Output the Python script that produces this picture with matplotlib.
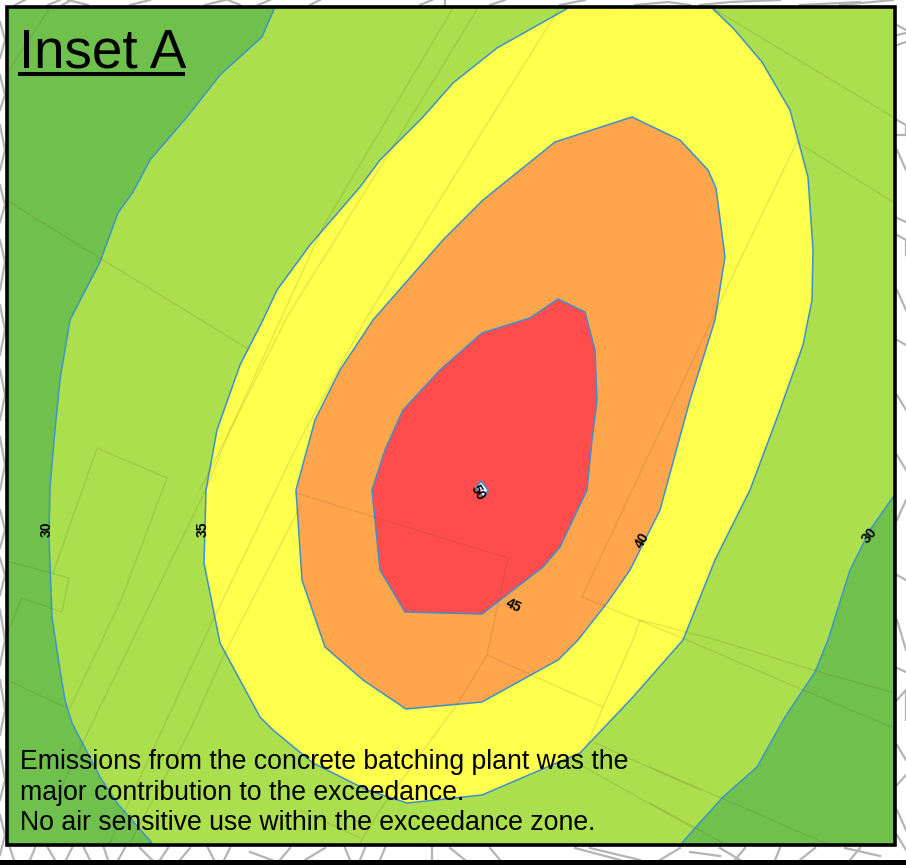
import matplotlib
matplotlib.use("Agg")
import matplotlib.pyplot as plt
from matplotlib.patches import Polygon, Rectangle

W, H = 906, 865

# contour bands in pixels
left_30 = [(275, 7), (262, 37), (220, 75), (187, 117), (150, 160), (133, 192), (118, 213), (100, 262), (70, 320),
           (60, 380), (55, 430), (50, 487), (49, 537), (52, 617), (60, 670), (65, 700), (72, 723), (100, 777),
           (117, 803), (152, 843), (0, 860), (0, 0), (275, 0)]
right_30 = [(893, 497), (870, 530), (850, 570), (828, 640), (815, 672), (785, 717), (757, 767), (723, 797),
            (695, 828), (682, 843), (675, 860), (906, 860), (906, 497)]
yellow_35 = [(712, 8), (733, 28), (762, 62), (790, 110), (808, 177), (813, 250), (812, 300), (803, 345), (780, 410),
             (750, 490), (715, 560), (683, 640), (633, 697), (580, 753), (482, 795), (407, 803), (367, 790),
             (313, 763), (273, 730), (260, 717), (220, 643), (204, 563), (206, 490), (217, 430), (240, 365),
             (263, 320), (277, 290), (310, 245), (360, 187), (380, 160), (423, 117), (453, 83), (497, 48), (570, 7)]
orange_40 = [(632, 117), (680, 140), (708, 170), (716, 188), (725, 257), (715, 320), (690, 400), (660, 510),
             (630, 570), (607, 603), (578, 640), (558, 660), (482, 702), (406, 709), (363, 680), (325, 647),
             (302, 580), (296, 490), (315, 420), (340, 370), (373, 320), (443, 240), (483, 200), (555, 142)]
red_45 = [(558, 299), (585, 312), (595, 350), (597, 400), (592, 440), (587, 490), (560, 547), (543, 567), (482, 614),
          (405, 612), (380, 570), (372, 490), (385, 450), (403, 410), (440, 370), (482, 333), (530, 318)]
white_50 = [(481, 481), (488, 490), (484, 498), (476, 488)]

band_shapes = [yellow_35, orange_40, red_45, white_50]
band_colors = ["#ffff4d", "#ffa64d", "#ff4d4d", "#f4f6ff"]

# parcel boundaries inside the frame
parcels = [
    [(7, 200), (38, 220), (250, 350)],
    [(7, 561), (69, 578), (62, 612), (22, 598), (7, 633)],
    [(53, 573), (97, 448), (167, 478), (121, 600), (70, 708)],
    [(7, 680), (65, 707)],
    [(453, 8), (323, 227), (230, 430), (207, 487), (100, 707), (60, 790)],
    [(478, 8), (397, 140), (287, 317), (200, 490)],
    [(560, 7), (500, 103), (367, 317), (300, 440), (213, 620), (162, 730), (110, 843)],
    [(300, 507), (223, 657), (190, 730), (130, 843)],
    [(296, 493), (508, 558), (487, 655), (458, 703), (380, 810), (360, 843)],
    [(300, 810), (360, 838)],
    [(487, 655), (603, 707), (633, 640), (640, 620), (717, 640), (813, 670), (894, 693)],
    [(603, 707), (588, 743)],
    [(595, 743), (700, 790)],
    [(577, 763), (693, 828)],
    [(582, 597), (687, 640), (803, 690), (894, 728)],
    [(582, 597), (740, 260), (797, 142), (893, 202)],
    [(712, 8), (893, 117)],
    [(650, 767), (825, 843)],
    [(650, 803), (723, 843)],
    [(7, 73), (50, 8)],
]

# map clutter around the frame
outside = [
    [(15, 5), (25, 0)], [(48, 5), (60, 0)], [(62, 5), (72, 0)], [(88, 5), (68, 0)], [(130, 5), (150, 0)],
    [(205, 5), (225, 0)], [(240, 5), (228, 0)], [(258, 5), (270, 0)], [(310, 5), (320, 0)], [(420, 5), (432, 0)],
    [(445, 5), (445, 0)], [(490, 5), (505, 0)], [(560, 5), (585, 0)], [(635, 5), (668, 2), (690, 5)],
    [(700, 5), (730, 2), (780, 0)], [(800, 5), (860, 2)], [(840, 5), (893, 0)],
    [(0, 22), (5, 40), (0, 58)], [(0, 75), (5, 95), (0, 110)], [(0, 125), (5, 150), (0, 170)], [(0, 185), (5, 205), (0, 222)],
    [(0, 240), (5, 262), (0, 290)], [(0, 305), (5, 330), (0, 355)], [(0, 370), (5, 395), (0, 420)], [(0, 437), (5, 465), (0, 490)],
    [(0, 510), (5, 530), (0, 548)], [(0, 558), (5, 575), (0, 595)], [(0, 610), (5, 640), (0, 665)], [(0, 680), (5, 710), (0, 735)],
    [(0, 750), (5, 780), (0, 800)], [(0, 815), (5, 835), (0, 855)],
    [(897, 25), (906, 30)], [(897, 35), (906, 33)], [(897, 45), (906, 42)], [(897, 120), (906, 125), (906, 135), (897, 135)],
    [(897, 150), (906, 170)], [(897, 218), (906, 222)], [(897, 235), (906, 240), (906, 255)], [(897, 290), (906, 310)],
    [(897, 340), (906, 345)], [(897, 395), (906, 410)], [(897, 455), (906, 470)], [(897, 520), (906, 500)], [(897, 575), (906, 580)],
    [(897, 620), (906, 650)], [(897, 668), (906, 672)], [(897, 700), (906, 690), (906, 720)], [(897, 745), (906, 760)],
    [(897, 785), (906, 775)], [(897, 810), (906, 830)], [(897, 835), (906, 850)],
    [(10, 848), (14, 860)], [(35, 848), (30, 860)], [(48, 848), (55, 860)], [(72, 848), (66, 860)], [(84, 848), (90, 860)],
    [(104, 848), (108, 860)], [(125, 848), (118, 860)], [(140, 848), (152, 860)], [(168, 848), (160, 860)],
    [(190, 848), (180, 860)], [(208, 848), (214, 860)], [(230, 848), (224, 860)], [(250, 852), (272, 860)],
    [(290, 848), (280, 860)], [(325, 848), (305, 860)], [(345, 848), (350, 860)], [(365, 848), (360, 860)],
    [(385, 848), (380, 860)], [(432, 848), (432, 860)], [(450, 848), (465, 860)], [(490, 848), (500, 860)],
    [(575, 848), (620, 860)], [(590, 848), (640, 860)], [(680, 848), (660, 860)], [(690, 852), (720, 856)],
    [(720, 848), (740, 860)], [(745, 848), (735, 860)], [(780, 848), (775, 860)], [(815, 848), (800, 860)],
    [(845, 848), (880, 856)], [(860, 848), (850, 860)],
]

contour_labels = ["30", "35", "40", "45", "50", "30"]
label_x = [47, 203, 642, 513, 478, 870]
label_y = [529, 529, 540, 606, 493, 535]
label_rot = [90, 90, 60, -25, -60, 50]

notes = ["Emissions from the concrete batching plant was the",
         "major contribution to the exceedance.",
         "No air sensitive use within the exceedance zone."]
note_y = [769, 800, 830]

plt.rcParams["font.family"] = ["Liberation Sans", "DejaVu Sans"]
fig = plt.figure(figsize=(W / 100, H / 100), dpi=100)
ax = fig.add_axes([0, 0, 1, 1])
ax.set_xlim(0, W)
ax.set_ylim(H, 0)
ax.axis("off")

for line in outside:
    ax.plot(*zip(*line), color="#b4b4b4", lw=1.6, zorder=1)
ax.add_patch(Rectangle((0, 860), W, 5, fc="black", ec="none", zorder=1))

frame = Rectangle((6, 6), 888, 838, fc="#acdf4d", ec="none", zorder=2)
ax.add_patch(frame)
for shape in (left_30, right_30):
    p = Polygon(shape, closed=True, fc="#70c04d", ec="#3d96c8", lw=1.1, zorder=3)
    ax.add_patch(p)
    p.set_clip_path(frame)
for shape, color in zip(band_shapes, band_colors):
    p = Polygon(shape, closed=True, fc=color, ec="#3d8fd0", lw=1.1, zorder=3)
    ax.add_patch(p)
    p.set_clip_path(frame)

for line in parcels:
    pl, = ax.plot(*zip(*line), color="#4a4a2a", alpha=0.14, lw=1, zorder=4)
    pl.set_clip_path(frame)

for txt, x, y, rot in zip(contour_labels, label_x, label_y, label_rot):
    ax.text(x, y, txt, fontsize=10, fontweight="bold", rotation=rot, ha="center", va="center", zorder=6, color="black")

ax.text(19, 67, "Inset A", fontsize=39.4, ha="left", va="baseline", zorder=6)
ax.plot([18, 185], [74, 74], color="black", lw=2.9, zorder=6, solid_capstyle="butt")
for txt, y in zip(notes, note_y):
    ax.text(20, y, txt, fontsize=19.2, ha="left", va="baseline", zorder=6)

ax.add_patch(Rectangle((6.5, 6.5), 888, 838, fc="none", ec="black", lw=2.6, zorder=7))

fig.savefig("out.png", dpi=100)
